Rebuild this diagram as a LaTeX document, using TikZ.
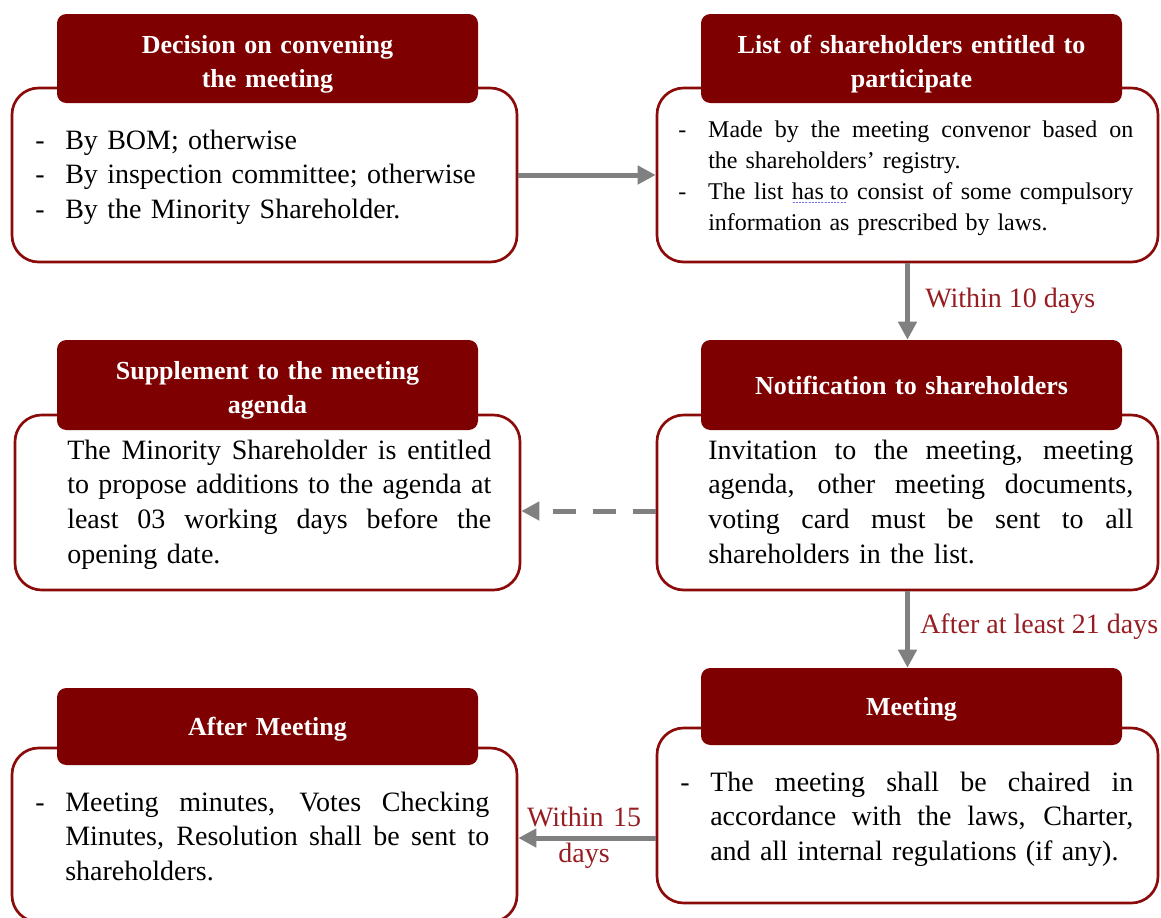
\documentclass[tikz,border=0pt]{standalone}
\usepackage{fontspec}
\setmainfont{Liberation Serif}
\usetikzlibrary{arrows.meta}
\definecolor{headred}{RGB}{127,0,0}
\definecolor{boxred}{RGB}{139,10,10}
\definecolor{labred}{RGB}{150,30,35}
\definecolor{arrgray}{RGB}{128,128,128}
\definecolor{squigblue}{RGB}{110,110,230}
\newcommand{\jl}[1]{\makebox[\hsize][s]{\spaceskip=0pt\xspaceskip=0pt #1}}
\newcommand{\dsh}{\leavevmode\llap{\makebox[22.5pt][l]{-}}}
\newsavebox{\sqbox}
\newcommand{\squig}[1]{\sbox{\sqbox}{#1}\rlap{\raisebox{-3pt}{\color{squigblue}\hbox to \wd\sqbox{\leaders\hbox to 2.4pt{\hss\vrule width 1.5pt height 0.7pt\hss}\hfill}}}\usebox{\sqbox}}
\begin{document}
\begin{tikzpicture}[x=0.75pt,y=-0.75pt,
 whitebox/.style={rectangle, draw=boxred, line width=2pt, fill=white, rounded corners=20pt, inner sep=0pt},
 headbox/.style={rectangle, fill=headred, rounded corners=7pt, inner sep=0pt, minimum width=315.75pt},
 title/.style={text=white, font=\bfseries\fontsize{19.5}{25.5}\selectfont, align=center, text width=310pt, inner sep=0pt, anchor=base},
 body/.style={font=\fontsize{21}{26}\selectfont, align=left, inner sep=0pt, anchor=base west},
 small/.style={font=\fontsize{18}{23.25}\selectfont, align=left, inner sep=0pt, anchor=base west},
 lab/.style={text=labred, font=\fontsize{21}{27}\selectfont, inner sep=0pt},
 flow/.style={draw=arrgray, line width=3.75pt, -{Triangle[length=13.5pt,width=13.5pt]}},
 dflow/.style={flow, dash pattern=on 17.25pt off 12.75pt}
]
\useasboundingbox (0,0) rectangle (1161,918);

% white boxes
\node[whitebox, minimum width=378.75pt, minimum height=130.5pt] (b1) at (264.5,175) {};
\node[whitebox, minimum width=375.75pt, minimum height=130.5pt] (b2) at (907.5,175) {};
\node[whitebox, minimum width=378.75pt, minimum height=131.25pt] (b3) at (267.5,502.5) {};
\node[whitebox, minimum width=375.75pt, minimum height=131.25pt] (b4) at (907.5,502.5) {};
\node[whitebox, minimum width=378.75pt, minimum height=130.5pt] (b5) at (264.5,835) {};
\node[whitebox, minimum width=375.75pt, minimum height=131.25pt] (b6) at (907.5,815.5) {};

% header boxes
\node[headbox, minimum height=66.75pt] (h1) at (267.5,58.5) {};
\node[headbox, minimum height=66.75pt] (h2) at (911.5,58.5) {};
\node[headbox, minimum height=67.5pt] (h3) at (267.5,385) {};
\node[headbox, minimum height=67.5pt] (h4) at (911.5,385) {};
\node[headbox, minimum height=57.75pt] (h5) at (267.5,726.5) {};
\node[headbox, minimum height=57.75pt] (h6) at (911.5,706.5) {};

% titles
\node[title] (t1) at (267.5,53) {Decision on convening\\the meeting};
\node[title] (t2) at (911.5,53) {List of shareholders entitled to\\participate};
\node[title] (t3) at (267.5,379) {Supplement to the meeting\\agenda};
\node[title] (t4) at (911.5,394) {Notification to shareholders};
\node[title] (t5) at (267.5,735) {After Meeting};
\node[title] (t6) at (911.5,715) {Meeting};

% body texts
\node[body, text width=330pt] (x1) at (65,149) {\dsh By BOM; otherwise\\\dsh By inspection committee; otherwise\\\dsh By the Minority Shareholder.};
\node[small, text width=318.75pt] (x2) at (708,137) {\dsh\jl{Made by the meeting convenor based on}\\the shareholders’ registry.\\\dsh\jl{The list \squig{has to} consist of some compulsory}\\information as prescribed by laws.};
\node[body, text width=318pt] (x3) at (67,459) {\jl{The Minority Shareholder is entitled}\\\jl{to propose additions to the agenda at}\\\jl{least 03 working days before the}\\opening date.};
\node[body, text width=318.75pt] (x4) at (708,459) {\jl{Invitation to the meeting, meeting}\\\jl{agenda, other meeting documents,}\\\jl{voting card must be sent to all}\\shareholders in the list.};
\node[body, text width=318pt] (x5) at (65,811) {\dsh\jl{Meeting minutes, Votes Checking}\\\jl{Minutes, Resolution shall be sent to}\\shareholders.};
\node[body, text width=317.25pt] (x6) at (710,791) {\dsh\jl{The meeting shall be chaired in}\\\jl{accordance with the laws, Charter,}\\and all internal regulations (if any).};

% connectors
\draw[flow] (b1.east) -- (b2.west);
\draw[flow] (b2.south) -- (b2.south |- h4.north);
\draw[dflow] (b4.west |- 0,511) -- (b3.east |- 0,511);
\draw[flow] (b4.south) -- (b4.south |- h6.north);
\draw[flow] (b6.west |- 0,838) -- (b5.east |- 0,838);

% labels
\node[lab, anchor=base west] (l1) at (925,307) {Within 10 days};
\node[lab, anchor=base west] (l2) at (920,633) {After at least 21 days};
\node[lab, anchor=base, align=center, text width=120pt] (l3) at (584,826) {Within 15\\days};
\end{tikzpicture}
\end{document}
